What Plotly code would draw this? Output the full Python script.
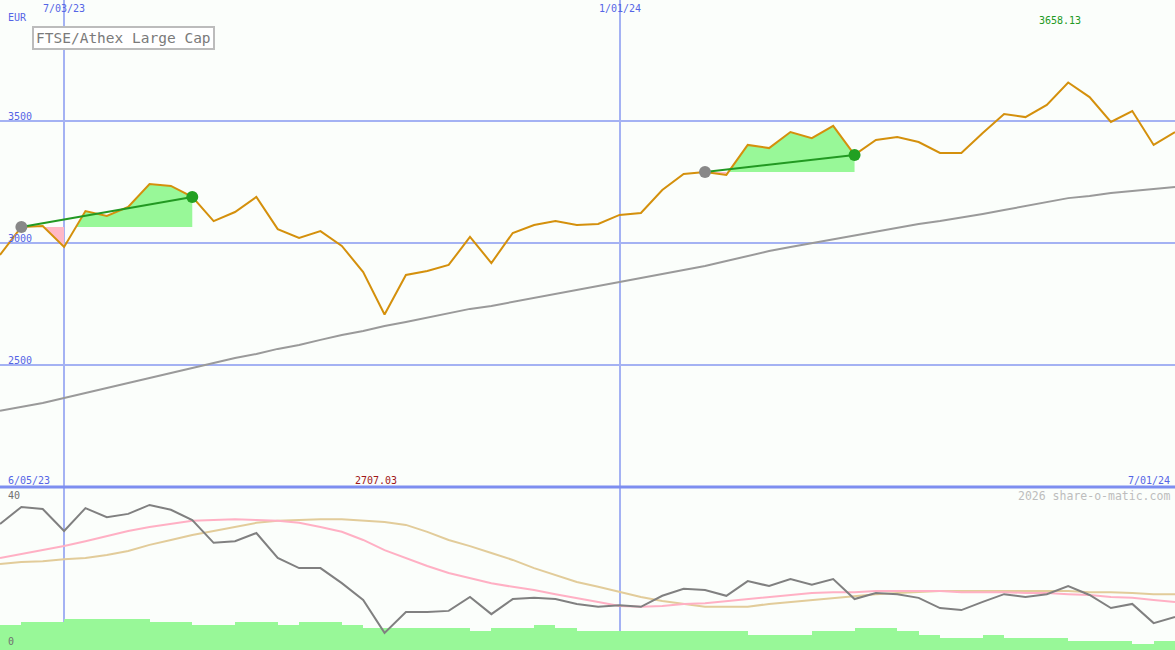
import plotly.graph_objects as go
import pandas as pd

# ---------------- data ----------------
dates = pd.date_range("2023-06-12", periods=56, freq="7D")

price = [2951, 3066, 3070, 2984, 3131, 3111, 3148, 3242, 3234, 3189,
         3090, 3127, 3189, 3057, 3021, 3049, 2988, 2881, 2707.03, 2869,
         2885, 2910, 3025, 2918, 3041, 3074, 3090, 3074, 3078, 3115,
         3123, 3217, 3283, 3291, 3279, 3402, 3389, 3455, 3430, 3480,
         3361, 3422, 3434, 3414, 3369, 3369, 3451, 3529, 3516, 3566,
         3658.13, 3598, 3496, 3541, 3402, 3455]

ma_long = [2312, 2328, 2344, 2365, 2385, 2406, 2426, 2447, 2467, 2488,
           2508, 2529, 2545, 2566, 2582, 2603, 2623, 2639, 2660, 2676,
           2693, 2713, 2730, 2742, 2758, 2775, 2791, 2807, 2824, 2840,
           2857, 2873, 2889, 2906, 2926, 2947, 2967, 2984, 3000, 3016,
           3029, 3045, 3062, 3078, 3090, 3103, 3119, 3135, 3152, 3168,
           3184, 3193, 3205, 3213, 3221, 3230]

osc = [30.9, 35.1, 34.6, 29.2, 34.8, 32.6, 33.4, 35.6, 34.4, 31.9,
       26.3, 26.7, 28.7, 22.6, 20.1, 20.1, 16.4, 12.3, 4.2, 9.3,
       9.3, 9.6, 13.0, 8.8, 12.5, 12.8, 12.5, 11.3, 10.6, 11.0,
       10.6, 13.3, 15.0, 14.7, 13.3, 16.9, 15.7, 17.4, 16.0, 17.4,
       12.5, 14.0, 13.7, 12.8, 10.3, 9.8, 11.8, 13.7, 13.0, 13.7,
       15.7, 13.5, 10.3, 11.3, 6.6, 8.1]

osc_fast = [22.6, 23.6, 24.5, 25.5, 26.7, 28.0, 29.2, 30.2, 30.9, 31.7,
            31.9, 32.1, 31.9, 31.7, 31.2, 30.2, 29.0, 27.0, 24.5, 22.6,
            20.6, 18.9, 17.7, 16.4, 15.5, 14.7, 13.7, 12.8, 11.8, 10.8,
            10.6, 10.8, 11.3, 11.5, 12.0, 12.5, 13.0, 13.5, 14.0, 14.2,
            14.2, 14.5, 14.5, 14.5, 14.5, 14.2, 14.2, 14.2, 14.0, 14.0,
            13.7, 13.5, 13.0, 12.8, 12.3, 11.8]

osc_slow = [21.1, 21.6, 21.8, 22.3, 22.6, 23.3, 24.3, 25.8, 27.0, 28.2,
            29.2, 30.2, 31.2, 31.7, 31.9, 32.1, 32.1, 31.7, 31.4, 30.7,
            29.0, 27.0, 25.5, 23.8, 22.1, 20.1, 18.4, 16.7, 15.5, 14.2,
            13.0, 12.0, 11.3, 10.6, 10.6, 10.6, 11.3, 11.8, 12.3, 12.8,
            13.3, 13.7, 14.0, 14.2, 14.5, 14.5, 14.5, 14.5, 14.5, 14.5,
            14.5, 14.2, 14.2, 14.0, 13.7, 13.7]

volume = [25, 28, 28, 31, 31, 31, 31, 28, 28, 25,
          25, 28, 28, 25, 28, 28, 25, 22, 22, 22,
          22, 22, 19, 22, 22, 25, 22, 19, 19, 19,
          19, 19, 19, 19, 19, 15, 15, 15, 19, 19,
          22, 22, 19, 15, 12, 12, 15, 12, 12, 12,
          9, 9, 9, 6, 9]

marked_dates = ["2023-07-03", "2024-01-01"]
range_labels = ["6/05/23", "7/01/24"]
trend_segments = [(1, 9), (33, 40)]
title = "FTSE/Athex Large Cap"
currency = "EUR"
price_ticks = [2500, 3000, 3500]
osc_ticks = [0, 40]
footer = "2026 share-o-matic.com"

# ---------------- styles ----------------
BG = "#fbfefb"
GRID = "#a4b2f3"
LBL = "#5565e6"
FONT = "DejaVu Sans Mono"
GREEN_FILL = "#98f898"
PINK_FILL = "#ffb8c6"

x = list(range(len(price)))
mark_idx = [list(dates).index(pd.Timestamp(d)) for d in marked_dates]


def fmt(d):
    return f"{d.month}/{d.day:02d}/{d.year % 100:02d}"


fig = go.Figure()

# ---- fills between price and trend-start level ----
for a, b in trend_segments:
    base = price[a]
    gx, gy = [a], [base]
    for i in range(a, b + 1):
        if i > a:
            p0, p1 = price[i - 1], price[i]
            if (p0 - base) * (p1 - base) < 0:
                t = (base - p0) / (p1 - p0)
                gx.append(i - 1 + t)
                gy.append(base)
        gx.append(i)
        gy.append(max(price[i], base))
    gx.append(b)
    gy.append(base)
    fig.add_trace(go.Scatter(x=gx, y=gy, mode="lines", fill="toself",
                             fillcolor=GREEN_FILL, line=dict(width=0),
                             hoverinfo="skip", showlegend=False,
                             xaxis="x", yaxis="y"))
    for i in range(a, b):
        p0, p1 = price[i], price[i + 1]
        if p1 < base:
            px, py = [], []
            if p0 >= base:
                t = (base - p0) / (p1 - p0)
                px += [i + t]
                py += [base]
            else:
                px += [i, i]
                py += [base, p0]
            px += [i + 1, i + 1]
            py += [p1, base]
            fig.add_trace(go.Scatter(x=px, y=py, mode="lines", fill="toself",
                                     fillcolor=PINK_FILL, line=dict(width=0),
                                     hoverinfo="skip", showlegend=False,
                                     xaxis="x", yaxis="y"))

# ---- long moving average ----
fig.add_trace(go.Scatter(x=x, y=ma_long, mode="lines",
                         line=dict(color="#9a9a9a", width=2),
                         showlegend=False, xaxis="x", yaxis="y"))
# ---- price ----
fig.add_trace(go.Scatter(x=x, y=price, mode="lines",
                         line=dict(color="#d4900c", width=2),
                         showlegend=False, xaxis="x", yaxis="y"))
# ---- trend lines + markers ----
for a, b in trend_segments:
    fig.add_trace(go.Scatter(x=[a, b], y=[price[a], price[b]], mode="lines",
                             line=dict(color="#229922", width=2),
                             showlegend=False, xaxis="x", yaxis="y"))
    fig.add_trace(go.Scatter(x=[a], y=[price[a]], mode="markers",
                             marker=dict(color="#888888", size=12),
                             showlegend=False, xaxis="x", yaxis="y"))
    fig.add_trace(go.Scatter(x=[b], y=[price[b]], mode="markers",
                             marker=dict(color="#22a022", size=12),
                             showlegend=False, xaxis="x", yaxis="y"))

# ---- volume (bottom, base axis) ----
fig.add_trace(go.Bar(x=[i + 0.5 for i in range(len(volume))], y=volume,
                     width=1.0, marker=dict(color=GREEN_FILL, line=dict(width=0)),
                     showlegend=False, xaxis="x2", yaxis="y2"))
# ---- oscillator (overlay) ----
fig.add_trace(go.Scatter(x=x, y=osc_slow, mode="lines",
                         line=dict(color="#e2cc9a", width=2),
                         showlegend=False, xaxis="x2", yaxis="y3"))
fig.add_trace(go.Scatter(x=x, y=osc_fast, mode="lines",
                         line=dict(color="#ffb0c4", width=2),
                         showlegend=False, xaxis="x2", yaxis="y3"))
fig.add_trace(go.Scatter(x=x, y=osc, mode="lines",
                         line=dict(color="#808080", width=2),
                         showlegend=False, xaxis="x2", yaxis="y3"))

split = 163 / 650
xr = [0, len(price) - 1]
axis_common = dict(showline=False, zeroline=False, ticks="", showticklabels=False)

fig.update_layout(
    width=1175, height=650,
    margin=dict(l=0, r=0, t=0, b=0),
    paper_bgcolor=BG, plot_bgcolor=BG,
    showlegend=False,
    bargap=0,
    xaxis=dict(domain=[0, 1], range=xr, anchor="y", tickvals=mark_idx,
               showgrid=True, gridcolor=GRID, gridwidth=2, **axis_common),
    xaxis2=dict(domain=[0, 1], range=xr, anchor="y2", tickvals=mark_idx,
                showgrid=True, gridcolor=GRID, gridwidth=2, **axis_common),
    yaxis=dict(domain=[split, 1], range=[2000, 3996], tickvals=price_ticks,
               showgrid=True, gridcolor=GRID, gridwidth=2, **axis_common),
    yaxis2=dict(domain=[0, split], range=[0, 163], showgrid=False, **axis_common),
    yaxis3=dict(overlaying="y2", range=[0, 40], showgrid=False, **axis_common),
)

# panel separator
fig.add_shape(type="line", xref="paper", yref="paper", x0=0, x1=1, y0=split, y1=split,
              line=dict(color="#7d8ef0", width=3), layer="above")

# title box
fig.add_annotation(xref="paper", yref="paper", x=32 / 1175, y=1 - 26 / 650,
                   xanchor="left", yanchor="top", text=title, showarrow=False,
                   font=dict(family=FONT, size=14.5, color="#7a7a7a"),
                   bgcolor="#ffffff", bordercolor="#bcbcbc", borderwidth=2, borderpad=2)


def txt(xv, yv, s, color, xanchor="left", xref="paper", size=10, xshift=0):
    fig.add_annotation(xref=xref, yref="paper", x=xv, y=1 - yv / 650, text=s,
                       showarrow=False, xanchor=xanchor, yanchor="middle",
                       xshift=xshift, font=dict(family=FONT, size=size, color=color))


txt(6 / 1175, 17, currency, LBL)
for v in price_ticks:
    ypx = (3996 - v) / 1996 * 487 - 5
    txt(6 / 1175, ypx, str(v), LBL)
for i in mark_idx:
    txt(i, 9, fmt(dates[i]), LBL, xanchor="center", xref="x")
imax = price.index(max(price))
imin = price.index(min(price))
txt(imax, 21, f"{max(price):.2f}", "#229922", xanchor="center", xref="x", xshift=-8)
txt(imin, 480, f"{min(price):.2f}", "#a01818", xanchor="center", xref="x", xshift=-9)
txt(6 / 1175, 480, range_labels[0], LBL)
txt(1 - 3 / 1175, 480, range_labels[1], LBL, xanchor="right")
txt(1 - 3 / 1175, 496, footer, "#bdbdbd", xanchor="right", size=11.5)
txt(6 / 1175, 495, str(osc_ticks[1]), "#707070")
txt(6 / 1175, 641, str(osc_ticks[0]), "#707070")

fig.write_html("out.html",
               config={"displayModeBar": False},
               post_script="document.body.style.margin='0';document.body.style.overflow='hidden';")
